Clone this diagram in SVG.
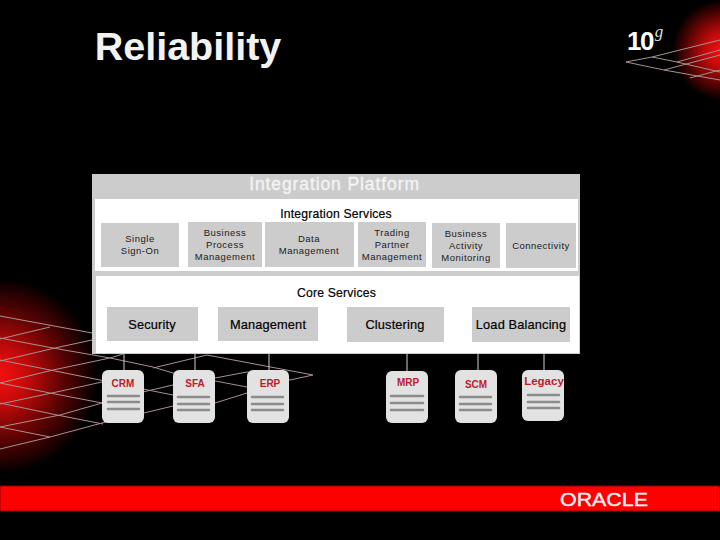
<svg xmlns="http://www.w3.org/2000/svg" width="720" height="540" viewBox="0 0 720 540">
<defs>
<radialGradient id="glowL" gradientUnits="userSpaceOnUse" cx="0" cy="376" r="98"><stop offset="0" stop-color="#f81010"/><stop offset="0.3" stop-color="#c00a0a"/><stop offset="0.65" stop-color="#5a0303"/><stop offset="1" stop-color="#000"/></radialGradient>
<radialGradient id="glowR" gradientUnits="userSpaceOnUse" cx="722" cy="50" r="50"><stop offset="0" stop-color="#f81010"/><stop offset="0.35" stop-color="#c00a0a"/><stop offset="0.7" stop-color="#5a0303"/><stop offset="1" stop-color="#000"/></radialGradient>
</defs>
<style>
text{font-family:"Liberation Sans",Arial,sans-serif;text-anchor:middle}
.box{fill:#cccccc}
.s{font-size:9.5px;fill:#1a1a1a;letter-spacing:.5px}
.h{font-size:12.2px;fill:#000;stroke:#000;stroke-width:.2;letter-spacing:.2px}
.c{font-size:12.8px;fill:#000;stroke:#000;stroke-width:.2;letter-spacing:.15px}
.r{font-size:10px;font-weight:bold;fill:#bd1a2c}
.db{fill:#e2e2e2}
.bar{stroke:#8c8c8c;stroke-width:2.6;stroke-linecap:round}
.wire{stroke:#d0d0d0;stroke-width:1;fill:none}
.grid{stroke:#a89090;stroke-width:1;fill:none}
</style>
<rect width="720" height="540" fill="#000"/>
<rect x="0" y="270" width="110" height="210" fill="url(#glowL)"/>
<rect x="660" y="0" width="60" height="110" fill="url(#glowR)"/>
<path class="grid" d="M0 316L92 333M0 338L53 348L110 358L153 367L173 373L247 387M0 360L50 370L100 380L143 389L173 395M0 383L50 393L102 403M0 403L57 415L103 424M0 427L50 437M0 339L50 327M0 361L55 348L92 340M0 383L53 370L110 358L123 354M0 404L52 393L102 382M0 427L60 415L102 403M0 449L50 437L102 423L173 406M143 392L173 385M153 368L207 355L313 375L290 380L247 372M215 378L247 372M215 403L247 393"/>
<path class="grid" d="M626 62L652 57L720 40M626 62L664 70L720 80M652 57L677 62L720 72M664 70L720 55M677 62L720 50M690 78L720 70"/>
<rect x="0" y="486" width="720" height="25" fill="#ff0000"/>
<rect x="0" y="486" width="720" height="25" fill="none" stroke="#8a0505" stroke-width="1"/>
<text x="188" y="60" font-size="39.5" font-weight="bold" fill="#f2f2f2">Reliability</text>
<text x="640" y="50" font-size="26" font-weight="bold" fill="#fff" letter-spacing="-1.5">10</text>
<text x="659" y="37" font-size="17" font-style="italic" fill="#ddd" style="font-family:'Liberation Serif',serif">g</text>
<text x="604" y="506" font-size="18" fill="#f5f0f0" stroke="#f5f0f0" stroke-width=".4" textLength="88" lengthAdjust="spacingAndGlyphs">ORACLE</text>
<g id="connectors"><path class="wire" d="M124 352V370M195 352V370M269 352V370M407 352V371M478 352V370M544 352V370"/></g>
<g id="platform">
<rect x="92" y="174" width="488" height="180" fill="#cccccc"/>
<rect x="95" y="199" width="483" height="72" fill="#fff"/>
<rect x="96" y="276" width="483" height="77" fill="#fff"/>
<text x="334.500" y="190" font-size="17.500" fill="#f4f4f4" stroke="#f4f4f4" stroke-width=".3" letter-spacing=".9">Integration Platform</text>
<text x="336" y="218" class="h">Integration Services</text>
<text x="336.500" y="297" class="h">Core Services</text>
</g>
<g id="sso"><rect class="box" x="101" y="223" width="78" height="44"/><text class="s" x="140" y="242">Single</text><text class="s" x="140" y="254">Sign-On</text></g>
<g id="bpm"><rect class="box" x="188" y="222" width="74" height="45"/><text class="s" x="225" y="236">Business</text><text class="s" x="225" y="248">Process</text><text class="s" x="225" y="260">Management</text></g>
<g id="dm"><rect class="box" x="265" y="222" width="89" height="45"/><text class="s" x="309" y="242">Data</text><text class="s" x="309" y="254">Management</text></g>
<g id="tpm"><rect class="box" x="358" y="222" width="68" height="45"/><text class="s" x="392" y="236">Trading</text><text class="s" x="392" y="248">Partner</text><text class="s" x="392" y="260">Management</text></g>
<g id="bam"><rect class="box" x="432" y="223" width="68" height="45"/><text class="s" x="466" y="237">Business</text><text class="s" x="466" y="249">Activity</text><text class="s" x="466" y="261">Monitoring</text></g>
<g id="conn"><rect class="box" x="506" y="223" width="70" height="45"/><text class="s" x="541" y="249">Connectivity</text></g>
<g id="security"><rect class="box" x="107" y="307" width="91" height="34"/><text class="c" x="152" y="329">Security</text></g>
<g id="management"><rect class="box" x="218" y="307" width="100" height="34"/><text class="c" x="268" y="329">Management</text></g>
<g id="clustering"><rect class="box" x="347" y="307" width="97" height="35"/><text class="c" x="395" y="329">Clustering</text></g>
<g id="loadbal"><rect class="box" x="472" y="307" width="98" height="35"/><text class="c" x="521" y="329">Load Balancing</text></g>
<g id="crm"><rect class="db" x="102" y="370" width="42" height="53" rx="6"/><text class="r" x="123" y="387">CRM</text><path class="bar" d="M108 396H139M108 402H139M108 409H139"/></g>
<g id="sfa"><rect class="db" x="173" y="370" width="42" height="53" rx="6"/><text class="r" x="195" y="387">SFA</text><path class="bar" d="M178 397H209M178 404H209M178 410H209"/></g>
<g id="erp"><rect class="db" x="247" y="370" width="42" height="53" rx="6"/><text class="r" x="270" y="387">ERP</text><path class="bar" d="M252 397H283M252 404H283M252 410H283"/></g>
<g id="mrp"><rect class="db" x="386" y="371" width="42" height="52" rx="6"/><text class="r" x="408" y="386">MRP</text><path class="bar" d="M391 396H423M391 403H423M391 410H423"/></g>
<g id="scm"><rect class="db" x="455" y="370" width="42" height="53" rx="6"/><text class="r" x="476" y="388">SCM</text><path class="bar" d="M460 397H491M460 404H491M460 410H491"/></g>
<g id="legacy"><rect class="db" x="522" y="370" width="42" height="51" rx="6"/><text class="r" x="544" y="385" style="font-size:11.5px">Legacy</text><path class="bar" d="M528 395H559M528 402H559M528 408H559"/></g>
</svg>
